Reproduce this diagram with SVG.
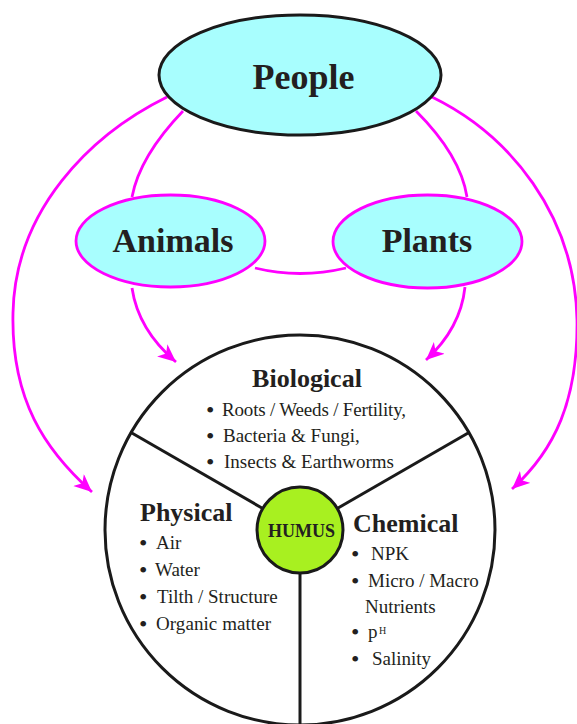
<svg xmlns="http://www.w3.org/2000/svg" width="577" height="724" viewBox="0 0 577 724">
<style>
.ell{fill:#a8fefe;stroke:#ff00ff;stroke-width:2.8}
.con{fill:none;stroke:#ff00ff;stroke-width:2.8}
.big{font-family:"Liberation Serif","Times New Roman",serif;font-weight:bold;fill:#231f20}
.txt{font-family:"Liberation Serif","Times New Roman",serif;font-size:19px;fill:#231f20}
.bul{font-family:"Liberation Serif","Times New Roman",serif;font-size:24px;fill:#231f20}
.sup{font-family:"Liberation Serif","Times New Roman",serif;font-size:10px;fill:#231f20}
.ttl{font-family:"Liberation Serif","Times New Roman",serif;font-weight:bold;font-size:26px;fill:#231f20}
.ln{stroke:#1a1a1a;stroke-width:3;fill:none}
</style>
<defs>
<marker id="ah" markerUnits="userSpaceOnUse" markerWidth="20" markerHeight="18" refX="18" refY="8" orient="auto">
<path d="M0,0 L18,8 L0,16 L5,8 z" fill="#ff00ff"/>
</marker>
</defs>
<rect width="577" height="724" fill="#ffffff"/>
<g id="connectors">
<path class="con" d="M183,111 C160,135 138,165 132,197"/>
<path class="con" d="M416,111 C440,135 462,165 467,197"/>
<path class="con" d="M255,268 Q300,279 346,268"/>
<path class="con" d="M132,288 C136,315 150,340 176,362" marker-end="url(#ah)"/>
<path class="con" d="M465,287 C462,315 450,338 426,360" marker-end="url(#ah)"/>
<path class="con" d="M167,97 C90,135 15,210 13,313 C11,400 45,450 92,492" marker-end="url(#ah)"/>
<path class="con" d="M432,97 C510,135 575,215 577,320 C578,400 555,450 512,489" marker-end="url(#ah)"/>
</g>
<g id="people">
<ellipse cx="300" cy="75" rx="141" ry="60" fill="#a8fefe" stroke="#1a1a1a" stroke-width="3"/>
<text class="big" x="303.5" y="89" font-size="36" text-anchor="middle">People</text>
</g>
<g id="animals">
<ellipse class="ell" cx="170.5" cy="241" rx="94.5" ry="46"/>
<text class="big" x="173" y="252" font-size="34" text-anchor="middle">Animals</text>
</g>
<g id="plants">
<ellipse class="ell" cx="427.5" cy="241.5" rx="94.5" ry="46.5"/>
<text class="big" x="427" y="252" font-size="34" text-anchor="middle">Plants</text>
</g>
<g id="soil">
<circle cx="300" cy="530" r="195" fill="#ffffff" stroke="#1a1a1a" stroke-width="3"/>
<line class="ln" x1="262.8" y1="508.5" x2="131" y2="432.5"/>
<line class="ln" x1="337.2" y1="508.5" x2="469" y2="432.5"/>
<line class="ln" x1="300" y1="573" x2="300" y2="726"/>
</g>
<g id="biological">
<text class="ttl" x="307" y="386.5" text-anchor="middle">Biological</text>
<text class="bul" x="206" y="418">•</text>
<text class="txt" x="222" y="416" textLength="184" lengthAdjust="spacing">Roots / Weeds / Fertility,</text>
<text class="bul" x="206" y="444">•</text>
<text class="txt" x="223" y="442">Bacteria &amp; Fungi,</text>
<text class="bul" x="206" y="470">•</text>
<text class="txt" x="224" y="468">Insects &amp; Earthworms</text>
</g>
<g id="physical">
<text class="ttl" x="140" y="521">Physical</text>
<text class="bul" x="139" y="551">•</text>
<text class="txt" x="156" y="549">Air</text>
<text class="bul" x="139" y="578">•</text>
<text class="txt" x="155" y="576">Water</text>
<text class="bul" x="139" y="605">•</text>
<text class="txt" x="157" y="603">Tilth / Structure</text>
<text class="bul" x="139" y="632">•</text>
<text class="txt" x="156" y="630" textLength="115" lengthAdjust="spacing">Organic matter</text>
</g>
<g id="chemical">
<text class="ttl" x="353" y="532">Chemical</text>
<text class="bul" x="351" y="562">•</text>
<text class="txt" x="371" y="560">NPK</text>
<text class="bul" x="351" y="589">•</text>
<text class="txt" x="368" y="587">Micro / Macro</text>
<text class="txt" x="365" y="613">Nutrients</text>
<text class="bul" x="351" y="640">•</text>
<text class="txt" x="368" y="638">p</text>
<text class="sup" x="379" y="633.5">H</text>
<text class="bul" x="351" y="667">•</text>
<text class="txt" x="372" y="665">Salinity</text>
</g>
<g id="humus">
<circle cx="300" cy="530" r="43" fill="#a8f020" stroke="#1a1a1a" stroke-width="3"/>
<text class="big" x="301.5" y="537" font-size="18" text-anchor="middle">HUMUS</text>
</g>
</svg>
